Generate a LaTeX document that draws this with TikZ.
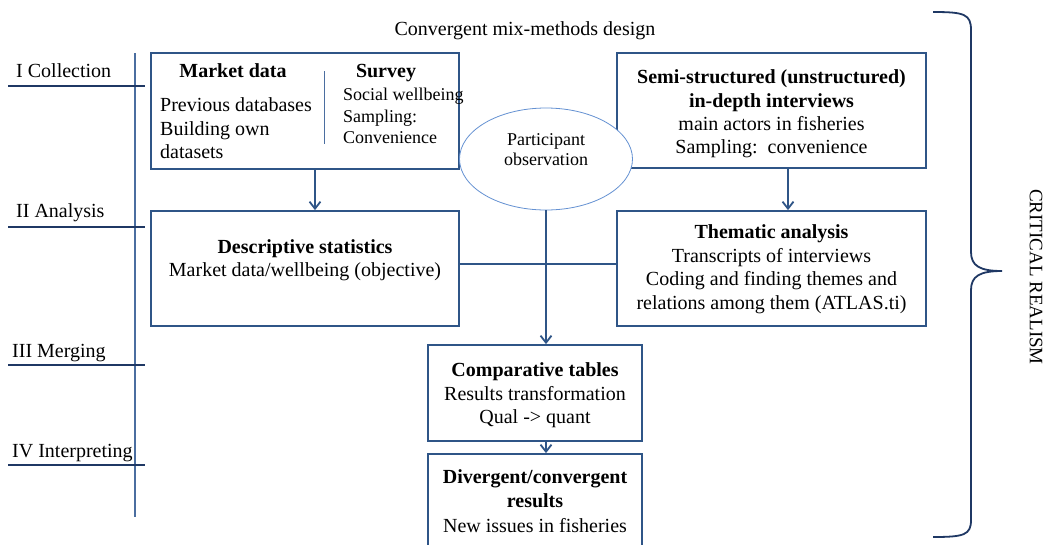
\documentclass[tikz,border=0pt]{standalone}
\usepackage{fontspec}
\setmainfont{Liberation Serif}
\usetikzlibrary{arrows.meta,shapes.geometric}
\definecolor{boxblue}{RGB}{47,85,135}
\definecolor{navy}{RGB}{31,56,100}
\definecolor{rulecol}{RGB}{75,110,160}
\definecolor{ovalcol}{RGB}{100,145,210}
\begin{document}
\begin{tikzpicture}[x=1pt,y=-1pt,
  box/.style={draw=boxblue,line width=1.8pt,inner sep=0pt,fill=none},
  txt/.style={inner sep=0pt,anchor=base,font=\fontsize{20}{24}\selectfont},
  small/.style={inner sep=0pt,anchor=base west,font=\fontsize{18}{21}\selectfont},
  lefttxt/.style={inner sep=0pt,anchor=base west,font=\fontsize{20}{24}\selectfont},
  arr/.style={draw=boxblue,line width=1.8pt,-{Straight Barb[length=7pt,width=11pt]}},
  link/.style={draw=boxblue,line width=1.8pt},
  phase/.style={draw=navy,line width=2pt}]
\clip (0,0) rectangle (1047,544);
\fill[white] (0,0) rectangle (1047,544);

% title
\node[txt] (title) at (525,35) {Convergent mix-methods design};

% phase markers on the left
\draw[rulecol,line width=1.3pt] (135,53) -- (135,517);
\node[lefttxt] (p1) at (16,77) {I Collection};
\node[lefttxt] (p2) at (16,217) {II Analysis};
\node[lefttxt] (p3) at (12,357) {III Merging};
\node[lefttxt] (p4) at (12,457) {IV Interpreting};
\draw[phase] (8,86) -- (145,86);
\draw[phase] (8,227) -- (145,227);
\draw[phase] (8,365) -- (145,365);
\draw[phase] (8,465) -- (145,465);

% boxes
\node[box,minimum width=308pt,minimum height=116pt] (market) at (305,111) {};
\node[box,minimum width=309pt,minimum height=115pt] (semi) at (771.5,110.5) {};
\node[box,minimum width=308pt,minimum height=115pt] (desc) at (305,268.5) {};
\node[box,minimum width=309pt,minimum height=115pt] (them) at (771.5,268.5) {};
\node[box,minimum width=214pt,minimum height=96pt] (comp) at (535,393) {};
\node[box,minimum width=214pt,minimum height=110pt] (div) at (535,509) {};

% market data / survey
\draw[rulecol,line width=1pt] (324,71) -- (324,144);
\node[txt] (md) at (233,77) {\bfseries Market data};
\node[lefttxt] (md1) at (160,111) {Previous databases};
\node[lefttxt] (md2) at (160,135) {Building own};
\node[lefttxt] (md3) at (160,158) {datasets};
\node[txt] (sv) at (386,77) {\bfseries Survey};
\node[small] (sv1) at (343,100) {Social wellbeing};
\node[small] (sv2) at (343,122) {Sampling:};
\node[small] (sv3) at (343,143) {Convenience};

% interviews
\node[txt] (se1) at (771.5,83) {\bfseries Semi-structured (unstructured)};
\node[txt] (se2) at (771.5,107) {\bfseries in-depth interviews};
\node[txt] (se3) at (771.5,130) {main actors in fisheries};
\node[txt] (se4) at (771.5,153) {Sampling:\ \ convenience};

% descriptive statistics
\node[txt] (ds1) at (305,253) {\bfseries Descriptive statistics};
\node[txt] (ds2) at (305,276) {Market data/wellbeing (objective)};

% thematic analysis
\node[txt] (th1) at (771.5,238) {\bfseries Thematic analysis};
\node[txt] (th2) at (771.5,262) {Transcripts of interviews};
\node[txt] (th3) at (771.5,285) {Coding and finding\ themes and};
\node[txt] (th4) at (771.5,309) {relations among them (ATLAS.ti)};

% comparative tables
\node[txt] (ct1) at (535,376) {\bfseries Comparative tables};
\node[txt] (ct2) at (535,400) {Results transformation};
\node[txt] (ct3) at (535,423) {Qual -> quant};

% divergent / convergent
\node[txt] (dv1) at (535,483) {\bfseries Divergent/convergent};
\node[txt] (dv2) at (535,507) {\bfseries results};
\node[txt] (dv3) at (535,532) {New issues in fisheries};

% participant observation
\node[draw=ovalcol,line width=0.8pt,fill=white,ellipse,inner sep=0pt,
      minimum width=173pt,minimum height=102pt] (obs) at (546,159) {};
\node[inner sep=0pt,anchor=base,font=\fontsize{18}{21}\selectfont] (ob1) at (546,145) {Participant};
\node[inner sep=0pt,anchor=base,font=\fontsize{18}{21}\selectfont] (ob2) at (546,165) {observation};

% connectors
\draw[arr] ([xshift=10pt]market.south) -- ([xshift=10pt]desc.north);
\draw[arr] ([xshift=16.5pt]semi.south) -- ([xshift=16.5pt]them.north);
\draw[link] ([yshift=4.5pt]desc.east) -- ([yshift=4.5pt]them.west);
\draw[arr] (obs.south) -- (obs.south |- comp.north);
\draw[arr] (comp.south -| obs.south) -- (div.north -| obs.south);

% brace and paradigm
\draw[navy,line width=1.8pt] (933,12) .. controls (964,12) and (971,14) .. (971,30)
  -- (971,252) .. controls (971,266) and (980,271) .. (1002,271)
  .. controls (980,271) and (971,276) .. (971,290)
  -- (971,520) .. controls (971,535) and (964,537) .. (933,537);
\node[inner sep=0pt,rotate=-90,font=\fontsize{19}{22}\selectfont] (cr) at (1036,277) {CRITICAL REALISM};
\end{tikzpicture}
\end{document}
